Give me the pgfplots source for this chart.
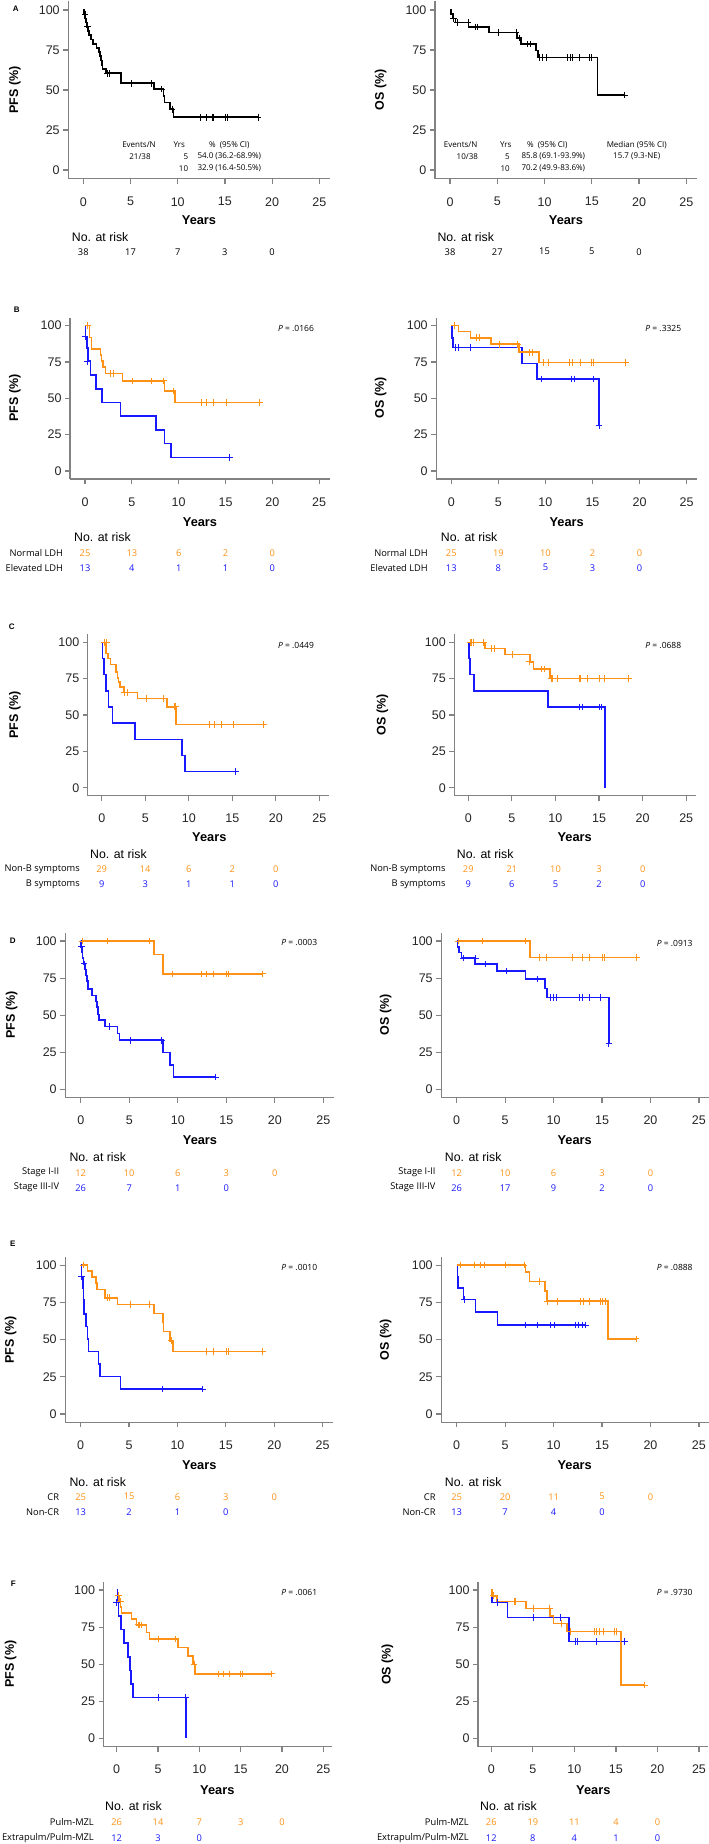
\documentclass[border=0pt]{standalone}
\usepackage{pgfplots}
\pgfplotsset{compat=1.18}
\usepackage{fontspec}
\setmainfont{Liberation Sans}
\newfontfamily\smf{Open Sans}
\definecolor{kmor}{RGB}{255,146,22}
\definecolor{kmbl}{RGB}{25,25,255}
\definecolor{axgray}{RGB}{130,130,130}
\pgfplotsset{
 km/.style={scale only axis, anchor=south west, xmin=-1.6, xmax=26.1, ymin=-5.5, ymax=105.5,
  axis x line*=bottom, axis y line*=left, xtick={0,5,10,15,20,25}, ytick={0,25,50,75,100},
  tick align=outside, major tick length=5pt, axis line style={axgray, line width=1.2pt},
  major tick style={axgray, line width=1.2pt},
  tick label style={font=\fontsize{12.5}{14}\selectfont, text=black!85},
  /pgf/number format/assume math mode=true,
  xticklabel style={yshift=-10pt}, clip=false},
 st/.style={const plot, line width=1.6pt, #1},
 cs/.style={only marks, mark=+, mark size=3.3pt, mark options={line width=0.9pt}, #1},
}
\tikzset{
 lt/.style={font=\fontsize{8}{9}\selectfont\bfseries},
 yl/.style={rotate=90, font=\fontsize{12.5}{14}\selectfont\bfseries},
 xl/.style={font=\fontsize{12.8}{14}\selectfont\bfseries},
 nar/.style={anchor=west, font=\fontsize{12.3}{14}\selectfont, inner sep=0pt},
 rl/.style={anchor=east, font=\smf\fontsize{9.3}{11}\selectfont, inner sep=0pt},
 rn/.style={font=\smf\fontsize{9.3}{11}\selectfont, inner sep=0pt},
 pv/.style={font=\smf\fontsize{8.5}{10}\selectfont, inner sep=0pt},
 tb/.style={font=\smf\fontsize{8}{9}\selectfont, inner sep=0pt},
}
\newcommand\riskrow[5]{\foreach \v [count=\i from 0] in {#5}{\pgfmathsetmacro\xx{#1+5*\i*#2}\node[rn,text=#4] at (\xx,#3) {\v};}}
\begin{document}
\begin{tikzpicture}
\useasboundingbox (0,0) rectangle (709pt,-1844pt);
% ---------------- A left
\begin{axis}[km, width=261.5pt, height=177.6pt, at={(68.2pt,-178.8pt)}]
\addplot[st=black] coordinates {(0,100)(0.05,97.4)(0.15,94.7)(0.3,92.1)(0.4,89.5)(0.5,86.8)(0.6,84.2)(0.8,81.6)(1.0,78.9)(1.4,76.3)(1.65,73.7)(1.75,71.1)(1.85,68.4)(1.95,65.8)(2.05,63.2)(2.4,60.5)(4.0,54.2)(7.5,50.6)(8.5,46.4)(8.6,42.2)(9.2,38.0)(9.55,33.0)(18.5,33.0)};
\addplot[cs=black] coordinates {(0.2,97.4)(0.45,89.5)(2.55,60.5)(2.8,60.5)(5.1,54.2)(7.2,54.2)(8.3,50.6)(9.4,38)(12.4,33)(13.0,33)(13.7,33)(13.75,33)(15.1,33)(15.3,33)(18.5,33)};
\end{axis}
% ---------------- A right
\begin{axis}[km, width=261.8pt, height=177.6pt, at={(434.9pt,-178.8pt)}]
\addplot[st=black] coordinates {(0,100)(0.1,97.4)(0.3,94.7)(0.6,92.1)(1.95,89.4)(4.1,86.0)(7.1,82.4)(7.5,78.7)(9.1,74.7)(9.3,70.4)(15.6,46.9)(18.5,46.9)};
\addplot[cs=black] coordinates {(0.35,94.7)(0.8,92.1)(1.9,92.1)(2.7,89.4)(2.9,89.4)(5.1,86.0)(7.0,86.0)(7.3,82.4)(8.2,78.7)(8.5,78.7)(9.5,70.4)(9.8,70.4)(10.2,70.4)(12.4,70.4)(12.7,70.4)(12.9,70.4)(13.7,70.4)(14.8,70.4)(15.0,70.4)(18.5,46.9)};
\end{axis}
% ---------------- B left
\begin{axis}[km, width=259.5pt, height=161.3pt, at={(70.0pt,-479.0pt)}]
\addplot[st=kmor] coordinates {(0,100)(0.5,92)(0.7,84)(1.65,80)(1.75,75.5)(1.9,71.5)(2.2,67.2)(4.0,62.0)(8.5,55.0)(9.6,47.2)(18.6,47.2)};
\addplot[cs=kmor] coordinates {(0.3,100)(2.7,67.2)(3.0,67.2)(5.1,62)(7.1,62)(8.4,62)(9.4,55)(12.4,47.2)(13.0,47.2)(13.7,47.2)(15.1,47.2)(18.6,47.2)};
\addplot[st=kmbl] coordinates {(0,100)(0.05,92.3)(0.2,84.6)(0.3,75.5)(0.6,66)(1.2,56.6)(1.8,47.2)(3.8,37.8)(7.6,28.3)(8.5,18.9)(9.2,9.4)(15.4,9.4)};
\addplot[cs=kmbl] coordinates {(0.0,92.3)(0.25,75.5)(15.4,9.4)};
\end{axis}
% ---------------- B right
\begin{axis}[km, width=260.8pt, height=161.3pt, at={(436.2pt,-479.0pt)}]
\addplot[st=kmbl] coordinates {(0,100)(0.1,91.7)(0.2,84.9)(7.5,74.1)(9.1,63.3)(15.7,31.2)};
\addplot[cs=kmbl] coordinates {(0.4,84.9)(0.8,84.9)(2.0,84.9)(9.6,63.3)(12.8,63.3)(13.1,63.3)(15.1,63.3)(15.7,31.2)};
\addplot[st=kmor] coordinates {(0,100)(0.75,95.9)(2.05,91.7)(4.2,87.2)(7.2,81.7)(9.3,74.8)(18.5,74.8)};
\addplot[cs=kmor] coordinates {(0.3,100)(2.7,91.7)(3.0,91.7)(5.1,87.2)(7.05,87.2)(8.3,81.7)(8.6,81.7)(9.8,74.8)(10.3,74.8)(12.5,74.8)(12.9,74.8)(13.7,74.8)(14.9,74.8)(15.1,74.8)(18.5,74.8)};
\end{axis}
% ---------------- C left
\begin{axis}[km, width=241.1pt, height=161.3pt, at={(87.8pt,-795.7pt)}]
\addplot[st=kmor] coordinates {(0,100)(0.5,92.4)(0.7,89)(1.0,84.9)(1.65,79.8)(1.8,75.7)(1.95,72.9)(2.1,69.5)(2.55,65.6)(4.1,61.5)(7.5,55.7)(8.55,43.6)(18.6,43.6)};
\addplot[cs=kmor] coordinates {(0.27,100)(0.57,100)(2.6,65.6)(3.0,65.6)(5.1,61.5)(7.1,61.5)(8.3,55.7)(8.5,55.7)(12.4,43.6)(13.0,43.6)(13.8,43.6)(15.1,43.6)(18.6,43.6)};
\addplot[st=kmbl] coordinates {(0,100)(0.1,88.9)(0.25,77.8)(0.5,66.7)(0.8,55.6)(1.25,44.4)(3.85,33.3)(9.2,22.2)(9.6,11.1)(15.4,11.1)};
\addplot[cs=kmbl] coordinates {(15.4,11.1)};
\end{axis}
% ---------------- C right
\begin{axis}[km, width=241.5pt, height=161.3pt, at={(454.3pt,-795.7pt)}]
\addplot[st=kmbl] coordinates {(0,100)(0.08,88.9)(0.2,77.8)(0.65,66.7)(9.15,55.6)(15.65,0)};
\addplot[cs=kmbl] coordinates {(12.8,55.6)(13.1,55.6)(15.0,55.6)(15.3,55.6)};
\addplot[st=kmor] coordinates {(0,100)(1.9,95.9)(4.2,91.7)(7.1,86.7)(7.5,81.7)(9.37,75.2)(18.4,75.2)};
\addplot[cs=kmor] coordinates {(0.2,100)(0.35,100)(0.65,100)(1.8,100)(2.7,95.9)(3.0,95.9)(5.1,91.7)(7.0,86.7)(8.4,81.7)(8.7,81.7)(9.5,75.2)(9.7,75.2)(10.2,75.2)(12.7,75.2)(12.9,75.2)(13.7,75.2)(15.1,75.2)(15.6,75.2)(18.4,75.2)};
\end{axis}
% ---------------- D left
\begin{axis}[km, width=268.9pt, height=164.6pt, at={(65.2pt,-1097.5pt)}]
\addplot[st=kmor] coordinates {(0,100)(7.55,90.9)(8.5,77.9)(18.7,77.9)};
\addplot[cs=kmor] coordinates {(0.2,100)(2.8,100)(7.1,100)(9.4,77.9)(12.4,77.9)(13.0,77.9)(13.7,77.9)(15.05,77.9)(15.2,77.9)(18.7,77.9)};
\addplot[st=kmbl] coordinates {(0,100)(0.05,96.2)(0.12,92.3)(0.2,88.5)(0.3,84.6)(0.45,80.8)(0.55,76.9)(0.65,73.1)(0.75,67.8)(1.15,63.4)(1.6,59.2)(1.65,55.5)(1.75,50.4)(1.9,46.6)(2.5,42.5)(3.8,37.6)(4.0,33.1)(8.45,24.8)(9.2,16.5)(9.55,8.3)(13.9,8.3)};
\addplot[cs=kmbl] coordinates {(0.1,96.2)(0.35,84.6)(3.0,42.5)(5.1,33.1)(8.3,33.1)(13.9,8.3)};
\end{axis}
% ---------------- D right
\begin{axis}[km, width=268.4pt, height=164.6pt, at={(441.2pt,-1097.5pt)}]
\addplot[st=kmor] coordinates {(0,100)(7.57,88.9)(18.6,88.9)};
\addplot[cs=kmor] coordinates {(0.2,100)(2.7,100)(7.1,100)(8.5,88.9)(9.3,88.9)(11.9,88.9)(13.0,88.9)(13.65,88.9)(15.0,88.9)(15.2,88.9)(18.6,88.9)};
\addplot[st=kmbl] coordinates {(0,100)(0.1,96.2)(0.25,92.3)(0.5,88.5)(1.9,84.4)(4.15,79.9)(7.1,74.3)(9.1,68.1)(9.3,61.9)(15.7,30.9)};
\addplot[cs=kmbl] coordinates {(0.7,88.5)(1.95,88.5)(3.0,84.4)(5.1,79.9)(8.3,74.3)(9.7,61.9)(10.0,61.9)(10.3,61.9)(12.7,61.9)(13.0,61.9)(13.75,61.9)(14.85,61.9)(15.7,30.9)};
\end{axis}
% ---------------- E left
\begin{axis}[km, width=268.1pt, height=165.3pt, at={(65.2pt,-1422.2pt)}]
\addplot[st=kmor] coordinates {(0,100)(0.7,96)(1.15,92)(1.6,88)(1.7,83.5)(2.5,78.1)(3.8,73.6)(7.6,67.5)(8.5,61.4)(8.55,55.3)(9.2,49.2)(9.55,42.0)(18.8,42.0)};
\addplot[cs=kmor] coordinates {(0.25,100)(2.8,78.1)(2.95,78.1)(5.1,73.6)(7.1,73.6)(9.35,49.2)(13.0,42)(13.7,42)(13.75,42)(15.1,42)(15.25,42)(18.8,42)};
\addplot[st=kmbl] coordinates {(0,100)(0.1,92.3)(0.22,84.6)(0.3,76.9)(0.35,67.1)(0.55,58.7)(0.7,50.3)(0.8,41.9)(1.85,33.5)(2.0,25.1)(4.1,16.8)(12.6,16.8)};
\addplot[cs=kmbl] coordinates {(0.1,92.3)(8.4,16.8)(12.6,16.8)};
\end{axis}
% ---------------- E right
\begin{axis}[km, width=268.4pt, height=165.3pt, at={(441.2pt,-1422.2pt)}]
\addplot[st=kmbl] coordinates {(0,100)(0.1,92.3)(0.15,84.6)(0.7,76.9)(1.95,68.4)(4.2,59.8)(13.3,59.8)};
\addplot[cs=kmbl] coordinates {(0.75,76.9)(7.1,59.8)(8.3,59.8)(9.7,59.8)(10.05,59.8)(12.3,59.8)(12.6,59.8)(13.0,59.8)(13.3,59.8)};
\addplot[st=kmor] coordinates {(0,100)(7.1,95.2)(7.5,88.9)(9.1,82.5)(9.3,75.7)(15.6,50.5)(18.5,50.5)};
\addplot[cs=kmor] coordinates {(0.34,100)(1.86,100)(2.48,100)(2.82,100)(5.05,100)(6.95,100)(8.5,88.9)(9.35,75.7)(10.4,75.7)(12.8,75.7)(13.1,75.7)(13.75,75.7)(14.85,75.7)(15.0,75.7)(15.3,75.7)(18.5,50.5)};
\end{axis}
% ---------------- F left
\begin{axis}[km, width=228.9pt, height=164.6pt, at={(103.5pt,-1746.5pt)}]
\addplot[st=kmor] coordinates {(0,100)(0.1,96.2)(0.3,92.3)(0.45,88.5)(0.6,84.6)(1.8,80.6)(2.4,76.5)(3.6,71.5)(3.95,67.0)(7.45,61.2)(8.65,55.5)(9.2,49.7)(9.5,43.5)(18.75,43.5)};
\addplot[cs=kmor] coordinates {(0.2,96.2)(0.48,92.3)(2.6,76.5)(2.8,76.5)(3.0,76.5)(5.1,67)(7.1,67)(9.35,49.7)(12.3,43.5)(12.9,43.5)(13.6,43.5)(13.7,43.5)(15.0,43.5)(15.2,43.5)(18.75,43.5)};
\addplot[st=kmbl] coordinates {(0,100)(0.08,91.7)(0.2,82.5)(0.5,73.3)(0.9,64.2)(1.35,55.0)(1.6,45.8)(1.7,36.7)(1.95,27.5)(8.4,0)};
\addplot[cs=kmbl] coordinates {(0.0,91.7)(5.1,27.5)(8.3,27.5)};
\end{axis}
% ---------------- F right
\begin{axis}[km, width=230.1pt, height=164.6pt, at={(478.0pt,-1746.5pt)}]
\addplot[st=kmbl] coordinates {(0,100)(0.08,91.7)(1.95,81.5)(9.35,65.2)(16.0,65.2)};
\addplot[cs=kmbl] coordinates {(0.75,91.7)(5.1,81.5)(8.3,81.5)(10.15,65.2)(10.35,65.2)(12.7,65.2)(16.0,65.2)};
\addplot[st=kmor] coordinates {(0,100)(0.1,96.2)(0.7,92.3)(4.2,87.5)(7.1,82.6)(7.5,77.4)(9.1,72.0)(15.6,36.0)(18.45,36.0)};
\addplot[cs=kmor] coordinates {(0.25,96.2)(2.73,92.3)(2.93,92.3)(5.1,87.5)(7.0,87.5)(8.5,77.4)(9.55,72)(12.36,72)(12.7,72)(13.0,72)(13.56,72)(14.85,72)(15.1,72)(18.45,36)};
\end{axis}
% ================= text
\begin{scope}[x=1pt,y=-1pt]
% panel letters
\node[lt] at (15.7,9) {A};
\node[lt] at (16.7,310) {B};
\node[lt] at (11.7,627) {C};
\node[lt] at (12.7,941) {D};
\node[lt] at (12.7,1243.3) {E};
\node[lt] at (13.3,1583.3) {F};
% y labels
\node[yl] at (15,90) {PFS (\%)};
\node[yl] at (380.7,90) {OS (\%)};
\node[yl] at (15,398) {PFS (\%)};
\node[yl] at (380.7,398) {OS (\%)};
\node[yl] at (15,715) {PFS (\%)};
\node[yl] at (382.3,715) {OS (\%)};
\node[yl] at (11.7,1015) {PFS (\%)};
\node[yl] at (385.7,1015) {OS (\%)};
\node[yl] at (10.7,1340) {PFS (\%)};
\node[yl] at (385.7,1340) {OS (\%)};
\node[yl] at (10.7,1664.3) {PFS (\%)};
\node[yl] at (387.3,1664.3) {OS (\%)};
% x labels
\node[xl] at (199,220) {Years};
\node[xl] at (566,220) {Years};
\node[xl] at (200,521.7) {Years};
\node[xl] at (566.7,521.7) {Years};
\node[xl] at (209.3,837.3) {Years};
\node[xl] at (574.7,837.3) {Years};
\node[xl] at (200,1140) {Years};
\node[xl] at (574.7,1140) {Years};
\node[xl] at (199.3,1465) {Years};
\node[xl] at (574.7,1465) {Years};
\node[xl] at (217.3,1790) {Years};
\node[xl] at (593.3,1790) {Years};
% P values
\node[pv] at (296,328.3) {\textit{P} = .0166};
\node[pv] at (663.3,328.3) {\textit{P} = .3325};
\node[pv] at (296,645) {\textit{P} = .0449};
\node[pv] at (663.3,645) {\textit{P} = .0688};
\node[pv] at (299.3,942.3) {\textit{P} = .0003};
\node[pv] at (674.7,943.3) {\textit{P} = .0913};
\node[pv] at (299.3,1267.7) {\textit{P} = .0010};
\node[pv] at (674.7,1267.7) {\textit{P} = .0888};
\node[pv] at (299.3,1592.3) {\textit{P} = .0061};
\node[pv] at (674.7,1592.3) {\textit{P} = .9730};
% A tables
\node[tb] at (139,145) {Events/N};
\node[tb] at (179.3,145) {Yrs};
\node[tb] at (229.3,145) {\%\ \ (95\% CI)};
\node[tb] at (140,156.7) {21/38};
\node[tb,anchor=east] at (188.3,156.7) {5};
\node[tb] at (229.3,156.7) {54.0 (36.2-68.9\%)};
\node[tb,anchor=east] at (188.3,168.3) {10};
\node[tb] at (229.3,168.3) {32.9 (16.4-50.5\%)};
\node[tb] at (460.7,145) {Events/N};
\node[tb] at (505.7,145) {Yrs};
\node[tb] at (547.3,145) {\%\ \ (95\% CI)};
\node[tb] at (636.7,145) {Median (95\% CI)};
\node[tb] at (467.3,156.7) {10/38};
\node[tb,anchor=east] at (510,156.7) {5};
\node[tb] at (553.3,156.7) {85.8 (69.1-93.9\%)};
\node[tb] at (636.7,156.7) {15.7 (9.3-NE)};
\node[tb,anchor=east] at (510,168.3) {10};
\node[tb] at (553.3,168.3) {70.2 (49.9-83.6\%)};
% risk tables
\node[nar] at (71.7,236.7) {No. at risk};
\riskrow{83.3}{9.44}{251.7}{black}{38,17,7,3,0}
\node[nar] at (437.3,236.7) {No. at risk};
\riskrow{450}{9.45}{251.7}{black}{38,27,15,5,0}
% B
\node[nar] at (74,536.7) {No. at risk};
\node[rl] at (63.3,552.7) {Normal LDH};
\node[rl] at (63.3,567.7) {Elevated LDH};
\riskrow{85}{9.37}{552.7}{kmor}{25,13,6,2,0}
\riskrow{85}{9.37}{567.7}{kmbl}{13,4,1,1,0}
\node[nar] at (440.7,536.7) {No. at risk};
\node[rl] at (428,552.7) {Normal LDH};
\node[rl] at (428,567.7) {Elevated LDH};
\riskrow{451.3}{9.415}{552.7}{kmor}{25,19,10,2,0}
\riskrow{451.3}{9.415}{567.7}{kmbl}{13,8,5,3,0}
% C
\node[nar] at (90,854) {No. at risk};
\node[rl] at (80,869) {Non-B symptoms};
\node[rl] at (80,884) {B symptoms};
\riskrow{101.7}{8.705}{869}{kmor}{29,14,6,2,0}
\riskrow{101.7}{8.705}{884}{kmbl}{9,3,1,1,0}
\node[nar] at (456.7,854) {No. at risk};
\node[rl] at (445.7,869) {Non-B symptoms};
\node[rl] at (445.7,884) {B symptoms};
\riskrow{468.3}{8.72}{869}{kmor}{29,21,10,3,0}
\riskrow{468.3}{8.72}{884}{kmbl}{9,6,5,2,0}
% D
\node[nar] at (69.3,1156.7) {No. at risk};
\node[rl] at (59.3,1172.7) {Stage I-II};
\node[rl] at (59.3,1187.7) {Stage III-IV};
\riskrow{80.7}{9.707}{1172.7}{kmor}{12,10,6,3,0}
\riskrow{80.7}{9.707}{1187.7}{kmbl}{26,7,1,0}
\node[nar] at (444.7,1156.7) {No. at risk};
\node[rl] at (435.7,1172.7) {Stage I-II};
\node[rl] at (435.7,1187.7) {Stage III-IV};
\riskrow{456.7}{9.69}{1172.7}{kmor}{12,10,6,3,0}
\riskrow{456.7}{9.69}{1187.7}{kmbl}{26,17,9,2,0}
% E
\node[nar] at (69.3,1481.7) {No. at risk};
\node[rl] at (59.3,1496.7) {CR};
\node[rl] at (59.3,1512.3) {Non-CR};
\riskrow{80.7}{9.68}{1496.7}{kmor}{25,15,6,3,0}
\riskrow{80.7}{9.68}{1512.3}{kmbl}{13,2,1,0}
\node[nar] at (444.7,1481.7) {No. at risk};
\node[rl] at (435.7,1496.7) {CR};
\node[rl] at (435.7,1512.3) {Non-CR};
\riskrow{456.7}{9.69}{1496.7}{kmor}{25,20,11,5,0}
\riskrow{456.7}{9.69}{1512.3}{kmbl}{13,7,4,0}
% F
\node[nar] at (105,1805.7) {No. at risk};
\node[rl] at (94,1822.3) {Pulm-MZL};
\node[rl] at (94,1837.7) {Extrapulm/Pulm-MZL};
\riskrow{116.7}{8.265}{1822.3}{kmor}{26,14,7,3,0}
\riskrow{116.7}{8.265}{1837.7}{kmbl}{12,3,0}
\node[nar] at (480,1805.7) {No. at risk};
\node[rl] at (469,1822.3) {Pulm-MZL};
\node[rl] at (469,1837.7) {Extrapulm/Pulm-MZL};
\riskrow{491.3}{8.307}{1822.3}{kmor}{26,19,11,4,0}
\riskrow{491.3}{8.307}{1837.7}{kmbl}{12,8,4,1,0}
\end{scope}
\end{tikzpicture}
\end{document}
